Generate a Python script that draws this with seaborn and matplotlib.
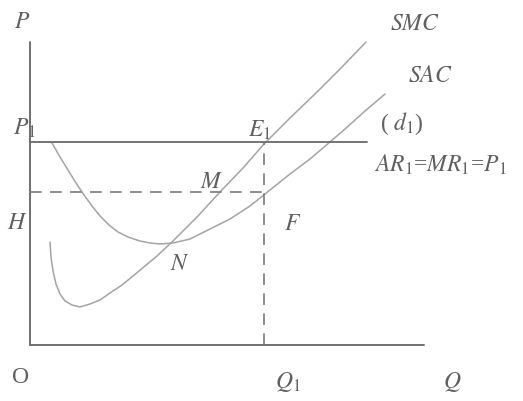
import matplotlib
matplotlib.use("Agg")
import matplotlib.pyplot as plt
import seaborn as sns
import pandas as pd

# short-run cost curves (Q across, P up)
smc_q = [20, 21, 23, 26, 30, 35, 42, 50, 60, 70, 80, 92, 103, 115, 127, 143, 167, 190, 213, 234, 260, 287, 310, 336]
smc_p = [103, 88, 74, 61, 51, 44, 40, 38, 41, 45, 52, 60, 69, 79, 89, 104, 128, 153, 177, 201, 227, 253, 276, 303]

sac_q = [22, 30, 38, 46, 54, 62, 70, 79, 88, 98, 110, 120, 130, 143, 160, 180, 200, 220, 235, 260, 280, 300, 315, 335, 355]
sac_p = [202, 188, 175, 162, 150, 139, 129, 120, 113, 108, 104, 102, 101, 102, 106, 116, 126, 139, 151, 171, 186, 203, 216, 234, 251]

# key levels
Q1 = 234
P1 = 203
H = 153
Q_MAX = 394
P_MAX = 303
D_END = 337

sns.set_style("white")
plt.rcParams["font.family"] = ["Liberation Serif", "DejaVu Serif"]
plt.rcParams["mathtext.fontset"] = "stix"

fig = plt.figure(figsize=(5.23, 4.02), dpi=100)
ax = fig.add_axes([0, 0, 1, 1])

curves = pd.concat([
    pd.DataFrame({"Q": smc_q, "P": smc_p, "curve": "SMC"}),
    pd.DataFrame({"Q": sac_q, "P": sac_p, "curve": "SAC"}),
])
sns.lineplot(data=curves, x="Q", y="P", units="curve", estimator=None, sort=False,
             color="#a4a4a4", linewidth=1.1, ax=ax, legend=False)

# axes
ax.plot([0, 0], [0, P_MAX], color="#707070", linewidth=1.4)
ax.plot([0, Q_MAX], [0, 0], color="#707070", linewidth=1.4)
# demand line d1
ax.plot([0, D_END], [P1, P1], color="#6a6a6a", linewidth=1.3)
# dashed guides
ax.plot([0, Q1], [H, H], color="#7a7a7a", linewidth=1.2, dashes=(7, 5))
ax.plot([Q1, Q1], [0, P1], color="#7a7a7a", linewidth=1.2, dashes=(7, 5))

ax.set_xlim(-30, 493)
ax.set_ylim(-56, 346)
ax.axis("off")

tc = "#606060"
fs = 17
labels = [
    (-8, 323, "$P$"),
    (-6, 218, "$P_1$"),
    (230, 216, "$E_1$"),
    (385, 322, "$SMC$"),
    (400, 269, "$SAC$"),
    (372, 222, "( $d_1$)"),
    (410, 181, "$AR_1$=$MR_1$=$P_1$"),
    (182, 163, "$M$"),
    (-13, 122, "$H$"),
    (263, 121, "$F$"),
    (150, 82, "$N$"),
    (258, -36, "$Q_1$"),
    (422, -36, "$Q$"),
]
for x, y, s in labels:
    ax.text(x, y, s, color=tc, fontsize=fs, ha="center", va="center")
ax.text(-9, -32, "O", color=tc, fontsize=fs, ha="center", va="center")

fig.savefig("out.png", dpi=100)
